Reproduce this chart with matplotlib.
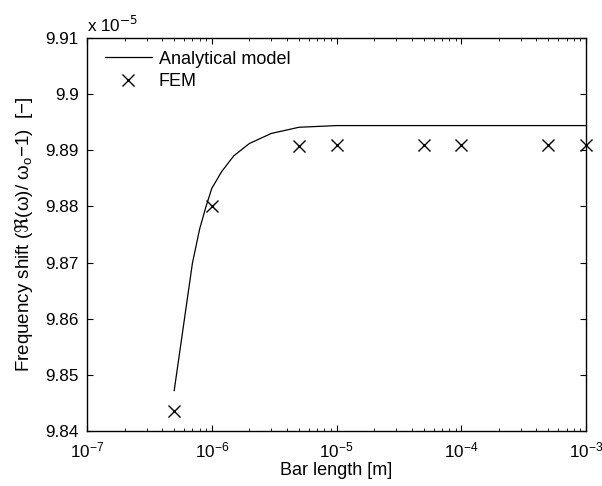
import numpy as np
import matplotlib
matplotlib.use("Agg")
import matplotlib.pyplot as plt
from matplotlib.ticker import LogLocator, NullFormatter

plt.rcParams["font.family"] = ["Liberation Sans", "DejaVu Sans"]
plt.rcParams["font.size"] = 12.5

# analytical model (values in units of 1e-5)
model_len = [5e-7, 7e-7, 8e-7, 9e-7, 1e-6, 1.2e-6, 1.5e-6, 2e-6, 3e-6, 5e-6, 1e-5, 1e-4, 1e-3]
model_shift = [9.8472, 9.8699, 9.8760, 9.8800, 9.8832, 9.8862, 9.8890, 9.8912, 9.8930,
               9.8941, 9.8944, 9.8944, 9.8944]

# FEM results
fem_len = [5e-7, 1e-6, 5e-6, 1e-5, 5e-5, 1e-4, 5e-4, 1e-3]
fem_shift = [9.8436, 9.8801, 9.8907, 9.8910, 9.8910, 9.8910, 9.8910, 9.8910]

yticks = [9.84, 9.85, 9.86, 9.87, 9.88, 9.89, 9.90, 9.91]
ytick_labels = ["9.84", "9.85", "9.86", "9.87", "9.88", "9.89", "9.9", "9.91"]

fig = plt.figure(figsize=(6.02, 4.86), dpi=100)
ax = fig.add_axes([0.1445, 0.1132, 0.829, 0.8086])

ax.plot(model_len, model_shift, color="black", lw=0.9, label="Analytical model")
ax.plot(fem_len, fem_shift, ls="none", marker="x", ms=9, mew=1.0, color="black",
        label="FEM", clip_on=False)

ax.set_xscale("log")
ax.set_xlim(1e-7, 1e-3)
ax.set_ylim(9.84, 9.91)
ax.set_yticks(yticks)
ax.set_yticklabels(ytick_labels)
ax.xaxis.set_minor_locator(LogLocator(base=10, subs=np.arange(2, 10)))
ax.xaxis.set_minor_formatter(NullFormatter())

ax.tick_params(which="both", direction="in", top=True, right=True, labelsize=12.3)
ax.tick_params(which="major", length=4)
ax.tick_params(axis="x", which="major", pad=7)
ax.tick_params(axis="y", which="major", pad=6)
ax.tick_params(which="minor", length=2)
for s in ax.spines.values():
    s.set_linewidth(1.0)

ax.text(0.0, 1.008, r"x 10$^{-5}$", transform=ax.transAxes, fontsize=12.3,
        ha="left", va="bottom")

ax.set_xlabel("Bar length [m]", fontsize=13, labelpad=1)
ax.set_ylabel("Frequency shift ($\\Re$(\u03c9)/ \u03c9$_\\mathregular{o}$\u22121)  [\u2212]",
              fontsize=13.5, labelpad=7)

ax.legend(loc="upper left", frameon=False, fontsize=13, handlelength=2.6,
          handletextpad=0.4, labelspacing=0.3, borderaxespad=0.3,
          bbox_to_anchor=(0.01, 1.0))

fig.savefig("out.png", dpi=100)
